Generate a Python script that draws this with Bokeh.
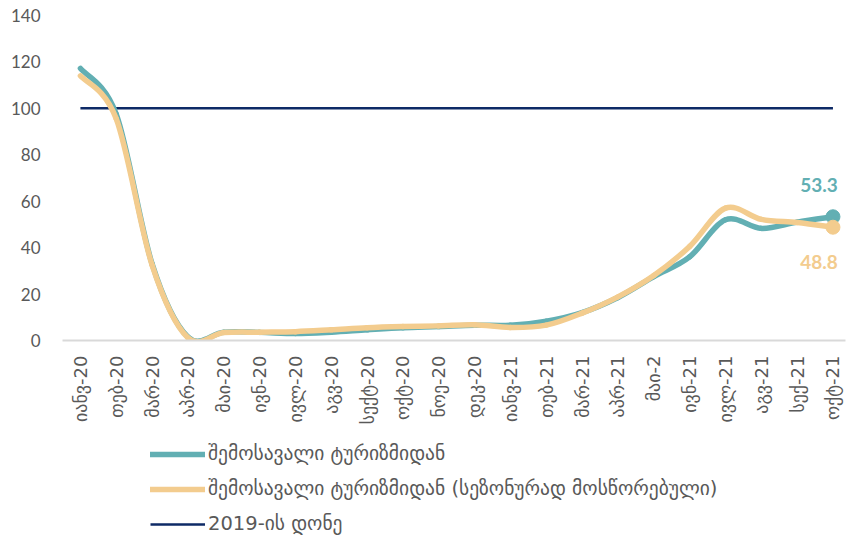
import math
from bokeh.plotting import figure
from bokeh.layouts import column
from bokeh.models import ColumnDataSource, Range1d, FixedTicker, Legend, LegendItem
from bokeh.embed import file_html
from bokeh.resources import INLINE
from bokeh.core.properties import value

months = ["იანვ-20", "თებ-20", "მარ-20", "აპრ-20", "მაი-20", "ივნ-20", "ივლ-20", "აგვ-20",
          "სექტ-20", "ოქტ-20", "ნოე-20", "დეკ-20", "იანვ-21", "თებ-21", "მარ-21", "აპრ-21",
          "მაი-2", "ივნ-21", "ივლ-21", "აგვ-21", "სექ-21", "ოქტ-21"]
inbound = [117.2, 97.5, 33.0, 1.5, 3.6, 3.5, 3.0, 3.6, 4.6, 5.5, 6.0, 6.6, 6.6, 8.3,
           12.0, 18.5, 27.5, 36.0, 52.0, 48.3, 51.0, 53.3]
inbound_sa = [114.0, 95.5, 32.5, 1.2, 3.4, 3.6, 3.8, 4.6, 5.5, 6.0, 6.3, 6.8, 5.6, 6.6,
              11.8, 18.8, 28.0, 40.5, 57.0, 52.2, 50.8, 48.8]
level2019 = [100.0] * len(months)
yticks = [0, 20, 40, 60, 80, 100, 120, 140]

names = ["შემოსავალი ტურიზმიდან",
         "შემოსავალი ტურიზმიდან (სეზონურად მოსწორებული)",
         "2019-ის დონე"]

TEAL = "#62AFB3"
ORANGE = "#F3CC8E"
NAVY = "#0E2A66"
GREY = "#595959"

xs = list(range(len(months)))


def bezier_source(ys):
    n = len(ys)
    d = dict(x0=[], y0=[], x1=[], y1=[], cx0=[], cy0=[], cx1=[], cy1=[])
    for i in range(n - 1):
        p0 = (xs[max(i - 1, 0)], ys[max(i - 1, 0)])
        p1 = (xs[i], ys[i])
        p2 = (xs[i + 1], ys[i + 1])
        p3 = (xs[min(i + 2, n - 1)], ys[min(i + 2, n - 1)])
        d["x0"].append(p1[0]); d["y0"].append(p1[1])
        d["x1"].append(p2[0]); d["y1"].append(p2[1])
        d["cx0"].append(p1[0] + (p2[0] - p0[0]) / 6.0)
        d["cy0"].append(p1[1] + (p2[1] - p0[1]) / 6.0)
        d["cx1"].append(p2[0] - (p3[0] - p1[0]) / 6.0)
        d["cy1"].append(p2[1] - (p3[1] - p1[1]) / 6.0)
    return ColumnDataSource(d)


def draw_series(fig):
    rn = fig.line(xs, level2019, line_color=NAVY, line_width=2.5)
    rt = fig.bezier(x0="x0", y0="y0", x1="x1", y1="y1", cx0="cx0", cy0="cy0", cx1="cx1", cy1="cy1",
                    source=bezier_source(inbound), line_color=TEAL, line_width=5.5, line_cap="round")
    ro = fig.bezier(x0="x0", y0="y0", x1="x1", y1="y1", cx0="cx0", cy0="cy0", cx1="cx1", cy1="cy1",
                    source=bezier_source(inbound_sa), line_color=ORANGE, line_width=5.5, line_cap="round")
    return rn, rt, ro


p = figure(width=850, height=440, output_backend="svg", toolbar_location=None,
           x_range=Range1d(-0.5, 21.35), y_range=Range1d(0, 140),
           min_border_left=62, min_border_right=5, min_border_top=15, min_border_bottom=100)
p.outline_line_color = None
p.grid.grid_line_color = None
p.background_fill_color = "white"

draw_series(p)

p.scatter([xs[-1]], [inbound[-1]], size=14, fill_color=TEAL, line_color=TEAL)
p.scatter([xs[-1]], [inbound_sa[-1]], size=14, fill_color=ORANGE, line_color=ORANGE)

p.text([xs[-1]], [inbound[-1]], text=[f"{inbound[-1]:.1f}"], x_offset=-14, y_offset=-32,
       text_align="center", text_baseline="middle", text_color=TEAL, text_font_size="19px",
       text_font_style="bold", text_font=value("Lato"))
p.text([xs[-1]], [inbound_sa[-1]], text=[f"{inbound_sa[-1]:.1f}"], x_offset=-14, y_offset=35,
       text_align="center", text_baseline="middle", text_color=ORANGE, text_font_size="19px",
       text_font_style="bold", text_font=value("Lato"))

p.yaxis.ticker = FixedTicker(ticks=yticks)
p.yaxis.axis_line_color = None
p.yaxis.major_tick_line_color = None
p.yaxis.minor_tick_line_color = None
p.yaxis.major_label_text_font_size = "17px"
p.yaxis.major_label_text_color = GREY
p.yaxis.major_label_text_font = "Lato"
p.yaxis.major_label_standoff = 16

p.xaxis.ticker = FixedTicker(ticks=xs)
p.xaxis.major_label_overrides = {i: m for i, m in enumerate(months)}
p.xaxis.major_label_orientation = math.pi / 2
p.xaxis.axis_line_color = "#D9D9D9"
p.xaxis.axis_line_width = 2
p.xaxis.major_tick_line_color = None
p.xaxis.minor_tick_line_color = None
p.xaxis.major_label_text_font_size = "18px"
p.xaxis.major_label_text_color = GREY
p.xaxis.major_label_text_font = "DejaVu Sans"
p.xaxis.major_label_standoff = 9

# legend panel: a second figure whose frame holds the legend (series drawn off-range)
q = figure(width=850, height=100, output_backend="svg", toolbar_location=None,
           x_range=Range1d(-200, -199), y_range=Range1d(-200, -199),
           min_border_left=0, min_border_right=0, min_border_top=0, min_border_bottom=0)
q.axis.visible = False
q.grid.visible = False
q.outline_line_color = None
qn, qt, qo = draw_series(q)

legend = Legend(items=[LegendItem(label=names[0], renderers=[qt]),
                       LegendItem(label=names[1], renderers=[qo]),
                       LegendItem(label=names[2], renderers=[qn])],
                orientation="vertical", location=(88, 5))
legend.glyph_width = 55
legend.glyph_height = 20
legend.label_height = 20
legend.label_standoff = 3
legend.spacing = 12
legend.padding = 0
legend.margin = 0
legend.border_line_color = None
legend.background_fill_alpha = 0
legend.label_text_font_size = "19.5px"
legend.label_text_color = GREY
legend.label_text_font = "DejaVu Sans"
q.add_layout(legend, "center")

layout = column(p, q, spacing=0)
open("out.html", "w").write(file_html(layout, INLINE))
